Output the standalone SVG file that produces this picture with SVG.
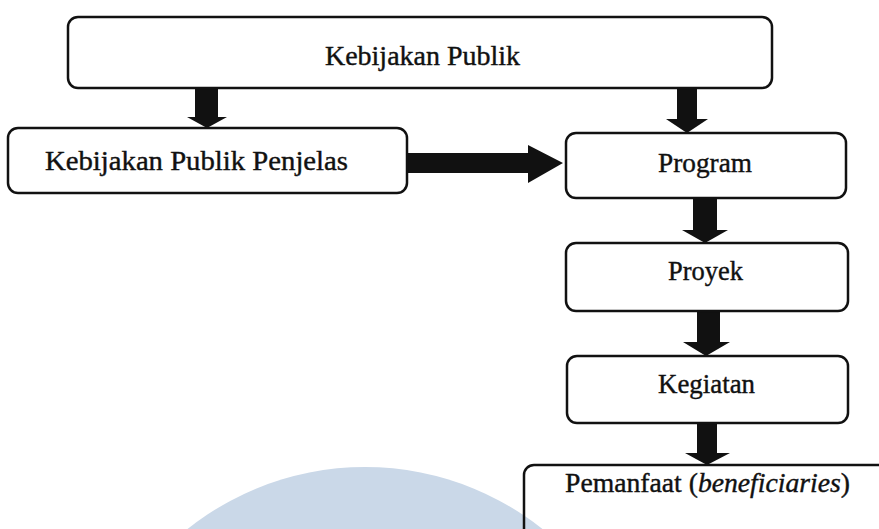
<svg xmlns="http://www.w3.org/2000/svg" width="879" height="529" viewBox="0 0 879 529">
<style>
.box{fill:none;stroke:#111;stroke-width:2.5}
.lbl{font-family:"Liberation Serif","Times New Roman",serif;font-size:28px;fill:#111;stroke:#111;stroke-width:0.4}
.arr{fill:#111}
</style>
<rect width="879" height="529" fill="#ffffff"/>
<circle cx="365" cy="752" r="285" fill="#cad8e8"/>
<g id="connectors">
<polygon class="arr" points="195,88 218,88 218,117 227,117 207,128 187,117 195,117"/>
<polygon class="arr" points="677,88 697,88 697,119 708,119 687,133 666,119 677,119"/>
<polygon class="arr" points="407,153 528,153 528,145 563,163 528,183 528,173 407,173"/>
<polygon class="arr" points="693,198 717,198 717,230 728,230 705,243 682,230 693,230"/>
<polygon class="arr" points="697,311 720,311 720,342 730,342 706,356 683,342 697,342"/>
<polygon class="arr" points="697,423 717,423 717,453 730,453 707,465 685,453 697,453"/>
</g>
<g id="kebijakan-publik">
<rect class="box" x="68" y="17" width="704" height="71" rx="10"/>
<text class="lbl" x="325" y="65" textLength="195" lengthAdjust="spacingAndGlyphs">Kebijakan Publik</text>
</g>
<g id="penjelas">
<rect class="box" x="8" y="128" width="399" height="65" rx="10"/>
<text class="lbl" x="45" y="170" textLength="303" lengthAdjust="spacingAndGlyphs">Kebijakan Publik Penjelas</text>
</g>
<g id="program">
<rect class="box" x="566" y="133" width="280" height="65" rx="10"/>
<text class="lbl" x="658" y="172" textLength="94" lengthAdjust="spacingAndGlyphs">Program</text>
</g>
<g id="proyek">
<rect class="box" x="566" y="243" width="282" height="68" rx="10"/>
<text class="lbl" x="668" y="280" textLength="75" lengthAdjust="spacingAndGlyphs">Proyek</text>
</g>
<g id="kegiatan">
<rect class="box" x="567" y="356" width="281" height="67" rx="10"/>
<text class="lbl" x="658" y="393" textLength="97" lengthAdjust="spacingAndGlyphs">Kegiatan</text>
</g>
<g id="pemanfaat">
<rect class="box" x="524" y="465" width="370" height="80" rx="10"/>
<text class="lbl" x="565" y="492" textLength="285" lengthAdjust="spacingAndGlyphs">Pemanfaat (<tspan font-style="italic">beneficiaries</tspan>)</text>
</g>
</svg>
